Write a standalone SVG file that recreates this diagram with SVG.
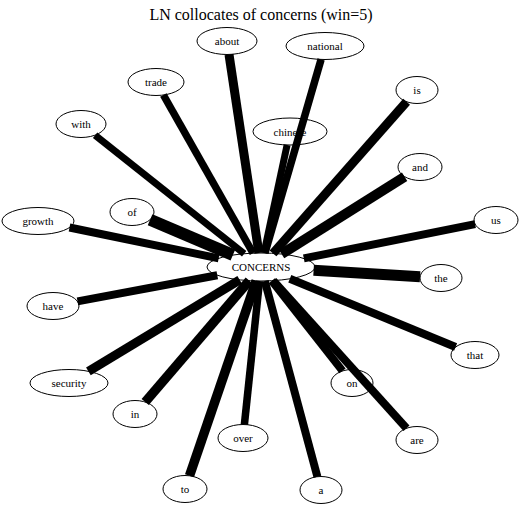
<svg xmlns="http://www.w3.org/2000/svg" width="527" height="518" viewBox="0 0 527 518">
<style>
.n ellipse{fill:#fff;stroke:#000;stroke-width:1}
.n text{font-family:"Liberation Serif","Times New Roman",serif;font-size:11px;text-anchor:middle;fill:#000}
.e line{stroke:#000;stroke-linecap:butt}
.t{font-family:"Liberation Serif","Times New Roman",serif;font-size:16px;text-anchor:middle;fill:#000}
</style>
<rect width="527" height="518" fill="#fff"/>
<text class="t" x="261" y="20">LN collocates of concerns (win=5)</text>
<g id="nodes">
<g id="n-concerns" class="n"><ellipse cx="261" cy="267" rx="54" ry="14"/><text x="261" y="271">CONCERNS</text></g>
<g id="n-about" class="n"><ellipse cx="227" cy="41" rx="30" ry="13.5"/><text x="227" y="45">about</text></g>
<g id="n-national" class="n"><ellipse cx="325" cy="46" rx="39" ry="13.5"/><text x="325" y="50">national</text></g>
<g id="n-chinese" class="n"><ellipse cx="290" cy="131.5" rx="37" ry="13.5"/><text x="290" y="135.5">chinese</text></g>
<g id="n-trade" class="n"><ellipse cx="156" cy="82" rx="28" ry="13.5"/><text x="156" y="86">trade</text></g>
<g id="n-with" class="n"><ellipse cx="81" cy="124" rx="25" ry="13.5"/><text x="81" y="128">with</text></g>
<g id="n-of" class="n"><ellipse cx="132" cy="212" rx="22" ry="13.5"/><text x="132" y="216">of</text></g>
<g id="n-growth" class="n"><ellipse cx="38" cy="221" rx="36" ry="13.5"/><text x="38" y="225">growth</text></g>
<g id="n-is" class="n"><ellipse cx="417" cy="90" rx="21" ry="13.5"/><text x="417" y="94">is</text></g>
<g id="n-and" class="n"><ellipse cx="420" cy="167" rx="22" ry="13.5"/><text x="420" y="171">and</text></g>
<g id="n-us" class="n"><ellipse cx="496" cy="220" rx="22" ry="13.5"/><text x="496" y="224">us</text></g>
<g id="n-the" class="n"><ellipse cx="441" cy="278" rx="21" ry="13.5"/><text x="441" y="282">the</text></g>
<g id="n-that" class="n"><ellipse cx="475" cy="355" rx="24" ry="13.5"/><text x="475" y="359">that</text></g>
<g id="n-have" class="n"><ellipse cx="53" cy="306" rx="26" ry="13.5"/><text x="53" y="310">have</text></g>
<g id="n-security" class="n"><ellipse cx="69" cy="383" rx="39" ry="13.5"/><text x="69" y="387">security</text></g>
<g id="n-in" class="n"><ellipse cx="135" cy="414" rx="22" ry="13.5"/><text x="135" y="418">in</text></g>
<g id="n-over" class="n"><ellipse cx="243" cy="438" rx="25" ry="13.5"/><text x="243" y="442">over</text></g>
<g id="n-to" class="n"><ellipse cx="185" cy="489" rx="22" ry="13.5"/><text x="185" y="493">to</text></g>
<g id="n-a" class="n"><ellipse cx="321" cy="490" rx="21" ry="13.5"/><text x="321" y="494">a</text></g>
<g id="n-on" class="n"><ellipse cx="352" cy="383" rx="21" ry="13.5"/><text x="352" y="387">on</text></g>
<g id="n-are" class="n"><ellipse cx="417" cy="440" rx="21" ry="13.5"/><text x="417" y="444">are</text></g>
</g>
<g id="edges" class="e">
<line x1="258.9" y1="253" x2="229" y2="54.5" stroke-width="9"/>
<line x1="265" y1="253" x2="321.1" y2="59.4" stroke-width="7.5"/>
<line x1="264" y1="253" x2="287.1" y2="145" stroke-width="7"/>
<line x1="253.1" y1="253.2" x2="163.4" y2="95" stroke-width="7.5"/>
<line x1="244.2" y1="253.7" x2="95.1" y2="135.2" stroke-width="7"/>
<line x1="232.9" y1="255" x2="150.1" y2="219.7" stroke-width="12"/>
<line x1="218.7" y1="258.3" x2="69.5" y2="227.5" stroke-width="8"/>
<line x1="273" y1="253.4" x2="406.6" y2="101.7" stroke-width="9"/>
<line x1="281.6" y1="254.1" x2="404.6" y2="176.7" stroke-width="10"/>
<line x1="303.8" y1="258.4" x2="475.1" y2="224.2" stroke-width="8"/>
<line x1="313.6" y1="270.2" x2="420.1" y2="276.7" stroke-width="11"/>
<line x1="289.8" y1="278.8" x2="455.6" y2="347" stroke-width="8"/>
<line x1="217.3" y1="275.2" x2="77.5" y2="301.4" stroke-width="8"/>
<line x1="239.7" y1="279.9" x2="88.4" y2="371.3" stroke-width="9"/>
<line x1="249.3" y1="280.7" x2="145.2" y2="402" stroke-width="9.5"/>
<line x1="259.5" y1="281" x2="244.4" y2="424.5" stroke-width="7.5"/>
<line x1="256.2" y1="280.9" x2="189.5" y2="475.8" stroke-width="9.5"/>
<line x1="264.8" y1="281" x2="317.4" y2="476.7" stroke-width="8"/>
<line x1="271.8" y1="280.7" x2="342.5" y2="370.9" stroke-width="8"/>
<line x1="273.3" y1="280.6" x2="406.5" y2="428.3" stroke-width="8"/>
</g>
</svg>
